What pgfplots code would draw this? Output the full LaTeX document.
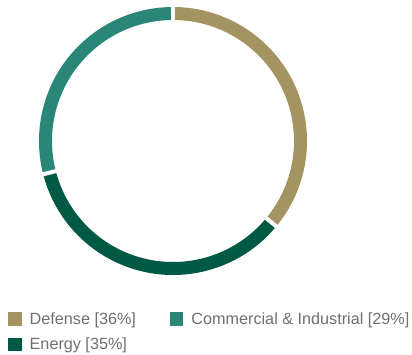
\documentclass[border=0pt]{standalone}
\usepackage{pgfplots}
\pgfplotsset{compat=1.18}
\usepgfplotslibrary{polar}
\usepackage{fontspec}
\setmainfont{Liberation Sans}
\definecolor{cDef}{HTML}{A39461}
\definecolor{cCom}{HTML}{2A8677}
\definecolor{cEne}{HTML}{005A43}
\definecolor{cTxt}{HTML}{707070}
% shares in percent
\def\vDef{36}
\def\vEne{35}
\def\vCom{29}
\begin{document}
\begin{tikzpicture}
\useasboundingbox (0,0) rectangle (412pt,354pt);
\pgfmathsetmacro{\aA}{90}
\pgfmathsetmacro{\aB}{90-3.6*\vDef}
\pgfmathsetmacro{\aC}{\aB-3.6*\vEne}
\pgfmathsetmacro{\aD}{\aC-3.6*\vCom}
\begin{polaraxis}[
  at={(173pt,213pt)}, anchor=center,
  scale only axis, width=268pt, height=268pt,
  ymin=0, ymax=134,
  hide axis, clip=false,
  legend columns=2,
  legend cell align=left,
  legend image code/.code={\fill[#1, draw=none, line width=0pt] (0pt,-6.75pt) rectangle (13.5pt,6.75pt);},
  legend style={at={(axis description cs:-0.1157,-0.131)}, anchor=north west,
    draw=none, fill=none, inner sep=0pt, text=cTxt,
    font=\fontsize{16.2}{18}\selectfont, row sep=8.5pt,
    nodes={inner xsep=8pt},
    /tikz/every even column/.append style={column sep=26pt}},
]
\addplot[cDef, line width=13pt, line cap=butt, domain=\aB:\aA, samples=120, smooth] {127.5};
\addlegendentry{Defense [36\%]}
\addplot[cCom, line width=13pt, line cap=butt, domain=\aD:\aC, samples=120, smooth] {127.5};
\addlegendentry{Commercial \& Industrial [29\%]}
\addplot[cEne, line width=13pt, line cap=butt, domain=\aC:\aB, samples=120, smooth] {127.5};
\addlegendentry{Energy [35\%]}
\addplot[white, line width=4pt, forget plot] coordinates {(\aA,115) (\aA,140)};
\addplot[white, line width=4pt, forget plot] coordinates {(\aB,115) (\aB,140)};
\addplot[white, line width=4pt, forget plot] coordinates {(\aC,115) (\aC,140)};
\end{polaraxis}
\end{tikzpicture}
\end{document}
